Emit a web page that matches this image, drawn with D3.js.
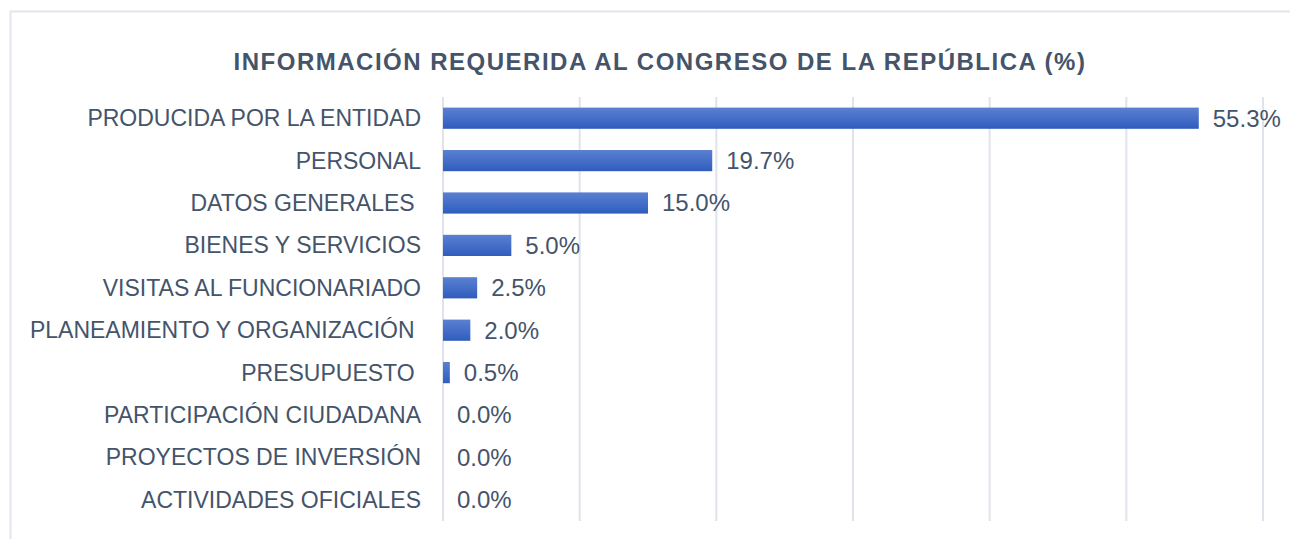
<!DOCTYPE html>
<html>
<head>
<meta charset="utf-8">
<script src="https://cdn.jsdelivr.net/npm/d3@7"></script>
<style>
  body { margin: 0; background: #fff; }
  svg text { font-family: "Liberation Sans", Arial, sans-serif; white-space: pre; }
</style>
</head>
<body>
<div id="chart"></div>
<script>
// categories, top to bottom (trailing spaces kept as in the source labels)
const categories = [
  "PRODUCIDA POR LA ENTIDAD",
  "PERSONAL",
  "DATOS GENERALES ",
  "BIENES Y SERVICIOS",
  "VISITAS AL FUNCIONARIADO",
  "PLANEAMIENTO Y ORGANIZACIÓN ",
  "PRESUPUESTO ",
  "PARTICIPACIÓN CIUDADANA",
  "PROYECTOS DE INVERSIÓN",
  "ACTIVIDADES OFICIALES"
];
const values = [55.3, 19.7, 15.0, 5.0, 2.5, 2.0, 0.5, 0.0, 0.0, 0.0];
const gridTicks = [0, 10, 20, 30, 40, 50, 60];
const title = "INFORMACIÓN REQUERIDA AL CONGRESO DE LA REPÚBLICA (%)";

const W = 1290, H = 539;
const margin = { top: 97, right: 27, bottom: 18, left: 443 };
const textColor = "#44546a";

const svg = d3.select("#chart").append("svg")
  .attr("width", W)
  .attr("height", H);

// bar gradient
const grad = svg.append("defs").append("linearGradient")
  .attr("id", "barGrad")
  .attr("x1", 0).attr("y1", 0).attr("x2", 0).attr("y2", 1);
grad.append("stop").attr("offset", "0%").attr("stop-color", "#5b80d2");
grad.append("stop").attr("offset", "100%").attr("stop-color", "#2f5dbd");

// outer frame
svg.append("rect")
  .attr("x", 10.5).attr("y", 11.5)
  .attr("width", 1290).attr("height", 560)
  .attr("fill", "none")
  .attr("stroke", "#e1e5ed")
  .attr("stroke-width", 2);

const x = d3.scaleLinear()
  .domain([0, 60])
  .range([margin.left, W - margin.right]);

const y = d3.scaleBand()
  .domain(categories)
  .range([margin.top, H - margin.bottom])
  .paddingInner(0.5)
  .paddingOuter(0.25);

// gridlines
svg.append("g")
  .selectAll("line")
  .data(gridTicks)
  .join("line")
  .attr("x1", d => x(d)).attr("x2", d => x(d))
  .attr("y1", margin.top).attr("y2", H - margin.bottom)
  .attr("stroke", "#dfe3eb")
  .attr("stroke-width", 2);

// title
svg.append("text")
  .attr("x", 660)
  .attr("y", 62)
  .attr("dy", "0.35em")
  .attr("text-anchor", "middle")
  .attr("font-size", 24)
  .attr("font-weight", "bold")
  .attr("letter-spacing", 1.5)
  .attr("fill", textColor)
  .text(title);

// bars
svg.append("g")
  .selectAll("rect")
  .data(values)
  .join("rect")
  .attr("x", x(0))
  .attr("y", (d, i) => y(categories[i]))
  .attr("width", d => x(d) - x(0))
  .attr("height", y.bandwidth())
  .attr("fill", "url(#barGrad)");

// category labels
svg.append("g")
  .selectAll("text")
  .data(categories)
  .join("text")
  .attr("x", 421)
  .attr("y", d => y(d) + y.bandwidth() / 2)
  .attr("dy", "0.35em")
  .attr("text-anchor", "end")
  .attr("font-size", 23)
  .attr("fill", textColor)
  .text(d => d);

// value labels
svg.append("g")
  .selectAll("text")
  .data(values)
  .join("text")
  .attr("x", d => x(d) + 14)
  .attr("y", (d, i) => y(categories[i]) + y.bandwidth() / 2)
  .attr("dy", "0.35em")
  .attr("font-size", 24)
  .attr("fill", textColor)
  .text(d => d.toFixed(1) + "%");
</script>
</body>
</html>
